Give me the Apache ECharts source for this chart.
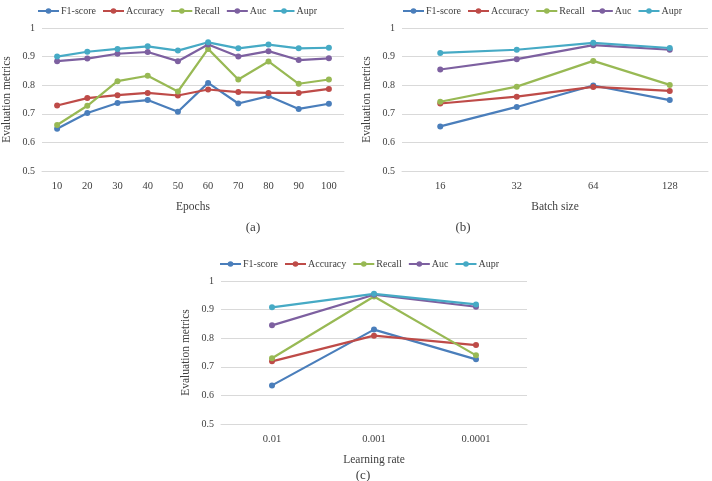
<!DOCTYPE html>
<html><head><meta charset="utf-8">
<script src="https://cdn.jsdelivr.net/npm/echarts@6/dist/echarts.min.js"></script>
<style>html,body{margin:0;padding:0;background:#fff}#c{width:712px;height:481px}</style>
</head><body><div id="c"></div>
<script>
const seriesNames = ['F1-score','Accuracy','Recall','Auc','Aupr'];
const colors = ['#4A7EBB','#BE4B48','#98B954','#7D60A0','#46AAC5'];
const yTicks = [0.5,0.6,0.7,0.8,0.9,1];

const epochs = ['10','20','30','40','50','60','70','80','90','100'];
const epF1   = [0.648,0.703,0.738,0.748,0.707,0.808,0.736,0.762,0.717,0.735];
const epAcc  = [0.729,0.755,0.765,0.773,0.764,0.785,0.776,0.773,0.773,0.787];
const epRec  = [0.661,0.728,0.814,0.833,0.778,0.927,0.820,0.883,0.805,0.820];
const epAuc  = [0.884,0.893,0.910,0.916,0.884,0.942,0.900,0.919,0.888,0.894];
const epAupr = [0.900,0.917,0.927,0.936,0.921,0.950,0.929,0.942,0.929,0.931];

const batch = ['16','32','64','128'];
const bF1   = [0.656,0.724,0.799,0.748];
const bAcc  = [0.736,0.760,0.794,0.780];
const bRec  = [0.742,0.795,0.885,0.801];
const bAuc  = [0.855,0.891,0.940,0.924];
const bAupr = [0.913,0.924,0.948,0.930];

const lr = ['0.01','0.001','0.0001'];
const lF1   = [0.635,0.830,0.726];
const lAcc  = [0.719,0.809,0.776];
const lRec  = [0.730,0.946,0.740];
const lAuc  = [0.845,0.952,0.910];
const lAupr = [0.908,0.955,0.918];

const font = 'Liberation Serif';
const txt = {fontFamily: font, color: '#404040', fontSize: 11};

function xAx(idx, cats, name){
  return {type:'category', gridIndex: idx, data: cats, boundaryGap: true,
    name: name, nameLocation:'middle', nameGap: 30, nameTextStyle: Object.assign({}, txt, {fontSize: 11.5}),
    axisLine:{lineStyle:{color:'#D9D9D9'}}, axisTick:{show:false},
    axisLabel: Object.assign({margin: 10}, txt, {fontSize: 10.5})};
}
function yAx(idx){
  return {type:'value', gridIndex: idx, min: yTicks[0], max: yTicks[yTicks.length-1], interval: 0.1,
    name:'Evaluation metrics', nameLocation:'middle', nameGap: 29, nameRotate: 90,
    nameTextStyle: Object.assign({}, txt, {fontSize: 11.5}),
    axisLine:{show:false}, axisTick:{show:false},
    splitLine:{lineStyle:{color:'#D9D9D9'}},
    axisLabel: Object.assign({margin: 7, formatter: v => (Math.round(v*10)/10).toString()}, txt, {fontSize: 10})};
}
const sets = [[epF1,epAcc,epRec,epAuc,epAupr],[bF1,bAcc,bRec,bAuc,bAupr],[lF1,lAcc,lRec,lAuc,lAupr]];
const series = [];
sets.forEach((arrs, g) => {
  arrs.forEach((d, i) => {
    series.push({name: seriesNames[i], type:'line', xAxisIndex: g, yAxisIndex: g, data: d,
      symbol:'circle', symbolSize: 6, color: colors[i],
      lineStyle:{width: 2.2, color: colors[i]}, itemStyle:{color: colors[i]},
      emphasis:{disabled:true}, animation:false});
  });
});
function leg(left, top){
  return {left: left, top: top, width: 320, data: seriesNames, itemWidth: 21, itemHeight: 7, itemGap: 6,
    textStyle: Object.assign({}, txt, {fontSize: 10, padding: [0,0,0,-3]}), selectedMode:false};
}
const option = {
  animation:false,
  color: colors,
  title: [
    {text:'(a)', left: 248, top: 216, textAlign:'center', textStyle: Object.assign({}, txt, {fontSize: 13, fontWeight:'normal'})},
    {text:'(b)', left: 458, top: 216, textAlign:'center', textStyle: Object.assign({}, txt, {fontSize: 13, fontWeight:'normal'})},
    {text:'(c)', left: 358, top: 464, textAlign:'center', textStyle: Object.assign({}, txt, {fontSize: 13, fontWeight:'normal'})}
  ],
  legend: [leg(32, 1), leg(397, 1), leg(214, 254)],
  grid: [
    {left: 37, right: 368, top: 28, bottom: 310},
    {left: 402, right: 4, top: 28, bottom: 310},
    {left: 221, right: 185, top: 281, bottom: 57}
  ],
  xAxis: [xAx(0, epochs, 'Epochs'), xAx(1, batch, 'Batch size'), xAx(2, lr, 'Learning rate')],
  yAxis: [yAx(0), yAx(1), yAx(2)],
  series: series
};
const chart = echarts.init(document.getElementById('c'), null, {renderer:'canvas'});
chart.setOption(option);
</script></body></html>
